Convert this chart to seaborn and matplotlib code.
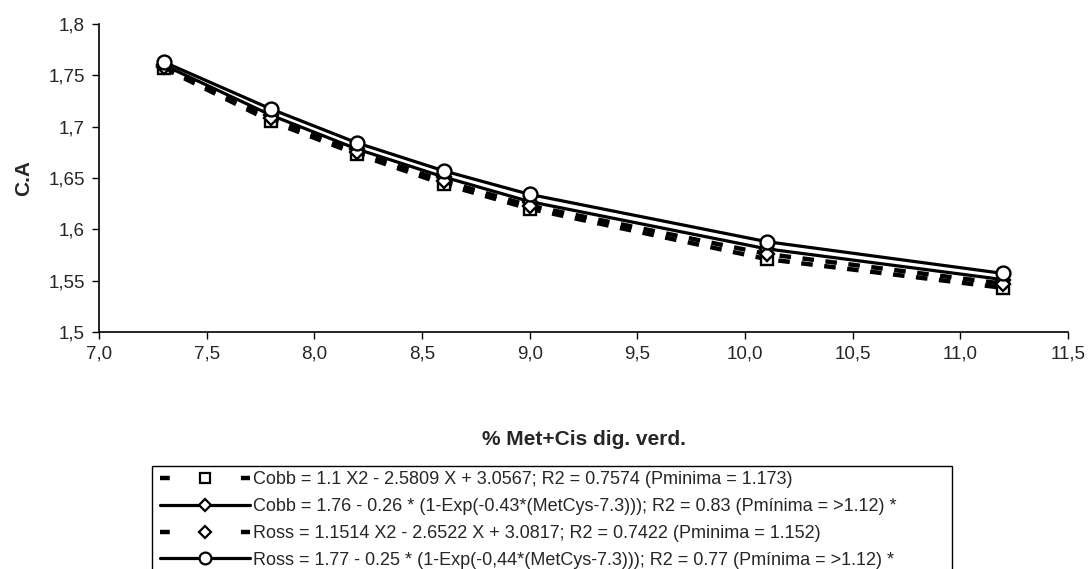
import matplotlib
matplotlib.use("Agg")
import matplotlib.pyplot as plt
import seaborn as sns
import pandas as pd
from matplotlib.ticker import FuncFormatter
from matplotlib.patches import Rectangle
from matplotlib.lines import Line2D

sns.set_style("white")
plt.rcParams['font.family'] = ['Liberation Sans', 'DejaVu Sans']

met_cis = [7.3, 7.8, 8.2, 8.6, 9.0, 10.1, 11.2]
cobb_quad = [1.757, 1.705, 1.673, 1.644, 1.620, 1.571, 1.543]
cobb_exp = [1.760, 1.711, 1.678, 1.651, 1.627, 1.581, 1.551]
ross_quad = [1.758, 1.708, 1.675, 1.647, 1.623, 1.576, 1.547]
ross_exp = [1.763, 1.717, 1.684, 1.657, 1.634, 1.588, 1.557]

labels = [
    "Cobb = 1.1 X2 - 2.5809 X + 3.0567; R2 = 0.7574 (Pminima = 1.173)",
    "Cobb = 1.76 - 0.26 * (1-Exp(-0.43*(MetCys-7.3))); R2 = 0.83 (Pmínima = >1.12) *",
    "Ross = 1.1514 X2 - 2.6522 X + 3.0817; R2 = 0.7422 (Pminima = 1.152)",
    "Ross = 1.77 - 0.25 * (1-Exp(-0,44*(MetCys-7.3))); R2 = 0.77 (Pmínima = >1.12) *",
]
series = [cobb_quad, cobb_exp, ross_quad, ross_exp]
markers = ["s", "D", "D", "o"]
msizes = [8.5, 7.5, 7.5, 10]
dashed = [True, False, True, False]

fig = plt.figure(figsize=(10.88, 5.69), dpi=100)
ax = fig.add_axes([0.091, 0.4165, 0.8906, 0.5415])

for vals, lab, mk, ms, dsh in zip(series, labels, markers, msizes, dashed):
    df = pd.DataFrame({"x": met_cis, "y": vals})
    sns.lineplot(data=df, x="x", y="y", ax=ax, color="black",
                 linewidth=3.2 if dsh else 2.3, marker=mk, markersize=ms,
                 markerfacecolor="white", markeredgecolor="black",
                 markeredgewidth=1.7, label=lab,
                 linestyle=(0, (2.6, 2.6)) if dsh else "-")

ax.set_xlim(7.0, 11.5)
ax.set_ylim(1.5, 1.8)
ax.set_xticks([7.0, 7.5, 8.0, 8.5, 9.0, 9.5, 10.0, 10.5, 11.0, 11.5])
ax.set_yticks([1.5, 1.55, 1.6, 1.65, 1.7, 1.75, 1.8])
ax.xaxis.set_major_formatter(FuncFormatter(lambda v, p: f"{v:.1f}".replace(".", ",")))
ax.yaxis.set_major_formatter(FuncFormatter(lambda v, p: (f"{v:.2f}".rstrip("0").rstrip(".")).replace(".", ",")))
ax.tick_params(axis="both", direction="out", length=5, width=1, color="black",
               labelsize=13.5, pad=5, bottom=True, left=True)
for s in ["top", "right"]:
    ax.spines[s].set_visible(False)
for s in ["left", "bottom"]:
    ax.spines[s].set_color("black")
    ax.spines[s].set_linewidth(1.2)

ax.set_xlabel("% Met+Cis dig. verd.", fontsize=15, fontweight="bold", labelpad=48)
ax.set_ylabel("C.A", fontsize=15, fontweight="bold", labelpad=11)

ax.get_legend().remove()

# legend proxies (short dash - marker - short dash for the dashed series)
proxies = []
for mk, ms, dsh in zip(markers, msizes, dashed):
    proxies.append(Line2D([], [], color="black",
                          linewidth=3.2 if dsh else 2.3,
                          linestyle=(0, (2.2, 16.0)) if dsh else "-",
                          marker=mk, markersize=ms * 0.85,
                          markerfacecolor="white", markeredgecolor="black",
                          markeredgewidth=1.6))

fig.patches.append(Rectangle((152 / 1088, -0.05), (952 - 152) / 1088, 0.05 + (1 - 466 / 569),
                             transform=fig.transFigure, fill=False, edgecolor="black",
                             linewidth=1.0, zorder=1))
leg = fig.legend(proxies, labels, loc="upper left", bbox_to_anchor=(160 / 1088, 1 - 471 / 569),
                 frameon=False, fontsize=13, handlelength=5.0, handletextpad=0.15,
                 labelspacing=0.55, borderpad=0.0, borderaxespad=0.0)

fig.savefig("out.png", dpi=100)
